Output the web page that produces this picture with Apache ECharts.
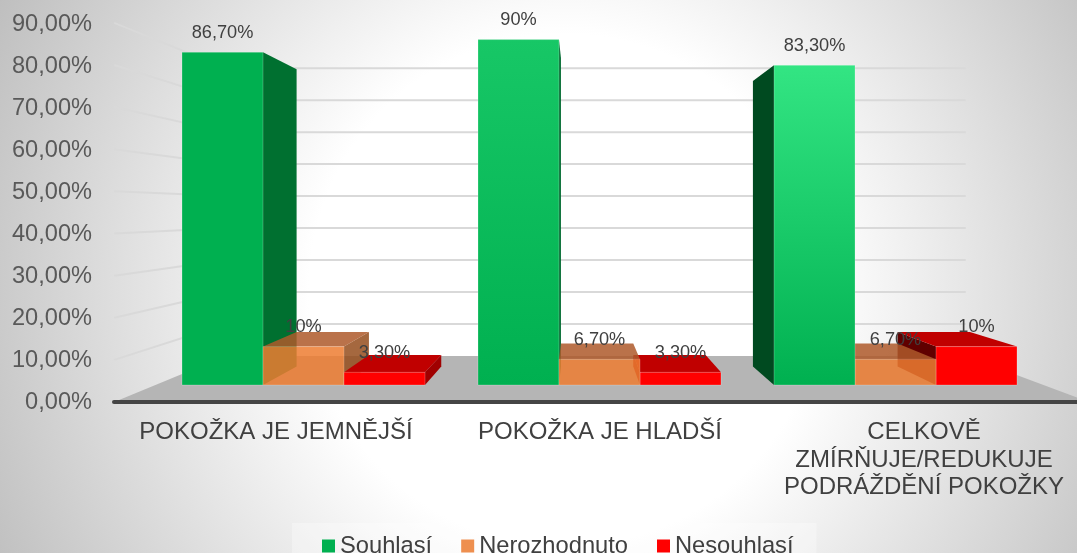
<!DOCTYPE html>
<html>
<head>
<meta charset="utf-8">
<style>html,body{margin:0;padding:0;overflow:hidden}#c{width:1077px;height:553px}</style>
<script src="https://cdn.jsdelivr.net/npm/echarts@6/dist/echarts.min.js"></script>
</head>
<body>
<div id="c"></div>
<script>
const categories = ['POKOŽKA JE JEMNĚJŠÍ', 'POKOŽKA JE HLADŠÍ', 'CELKOVĚ\nZMÍRŇUJE/REDUKUJE\nPODRÁŽDĚNÍ POKOŽKY'];
const seriesNames = ['Souhlasí', 'Nerozhodnuto', 'Nesouhlasí'];
const souhlasi = [86.7, 90, 83.3];
const nerozhodnuto = [10, 6.7, 6.7];
const nesouhlasi = [3.3, 3.3, 10];
const ticks = [0, 10, 20, 30, 40, 50, 60, 70, 80, 90];

// perspective of the drawing
const VX = 577, VY = 211, S_DEPTH = 0.893, S_BACK = 0.8333, S_OUT = 1.098;
const project = (p, s) => [VX + (p[0] - VX) * s, VY + (p[1] - VY) * s];

// paint order inside each category (by series index)
const paintRank = [[0, 1, 2], [0, 2, 1], [2, 1, 0]];

const grad = (top, bottom) => ({ type: 'linear', x: 0, y: 0, x2: 0, y2: 1,
  colorStops: [{ offset: 0, color: top }, { offset: 1, color: bottom }] });

const styles = [
  { legend: '#00B050',
    front: ['#00B050', grad('#17C766', '#00B050'), grad('#33E583', '#00B050')],
    top: ['#007030', '#006A30', '#004A20'],
    side: ['#007030', '#006A30', '#004A20'], alpha: 1 },
  { legend: '#EE8F4F',
    front: ['#ED7D31', '#ED7D31', '#ED7D31'],
    top: ['#AE592A', '#AE592A', '#AE592A'],
    side: ['#954E1D', '#954E1D', '#954E1D'], alpha: 0.85 },
  { legend: '#FF0000',
    front: ['#FF0000', '#FF0000', '#FF0000'],
    top: ['#C00000', '#C00000', '#C00000'],
    side: ['#A00000', '#A00000', '#600000'], alpha: 1 }
];

const fmt = v => (Number.isInteger(v) ? v + '%' : v.toFixed(2).replace('.', ',') + '%');
const poly = (pts, fill, alpha, z2, stroke) => ({ type: 'polygon', z2, shape: { points: pts },
  style: { fill, opacity: alpha, stroke: stroke || null, lineWidth: 1 } });

function barRenderer(si) {
  const st = styles[si];
  return function (params, api) {
    const i = api.value(0), v = api.value(1);
    const band = api.size([1, 0])[0];
    const w = band * 81 / 296;
    const c = api.coord([i, v]), b = api.coord([i, 0]);
    const x0 = c[0] + (si - 1) * w - w / 2, x1 = x0 + w, yt = c[1], yb = b[1];
    const z = 10 + paintRank[i][si] * 10;
    const P = (x, y) => project([x, y], S_DEPTH);
    const kids = [];
    if (x0 > VX) kids.push(poly([[x0, yt], P(x0, yt), P(x0, yb), [x0, yb]], st.side[i], st.alpha, z));
    if (x1 < VX) kids.push(poly([[x1, yt], P(x1, yt), P(x1, yb), [x1, yb]], st.side[i], st.alpha, z));
    if (yt > VY) kids.push(poly([[x0, yt], [x1, yt], P(x1, yt), P(x0, yt)], st.top[i], st.alpha, z + 1));
    kids.push(poly([[x0, yt], [x1, yt], [x1, yb], [x0, yb]], st.front[i], st.alpha, z + 2, 'rgba(255,255,255,0.22)'));
    kids.push({ type: 'text', z2: 100, style: {
      x: (x0 + x1) / 2, y: yt - 19.5, text: fmt(v), align: 'center', verticalAlign: 'middle',
      fill: '#404040', font: '18.2px "Liberation Sans", Arial, sans-serif' } });
    return { type: 'group', children: kids };
  };
}

function wallRenderer(params, api) {
  const v = api.value(0);
  const band = api.size([1, 0])[0];
  const yv = api.coord([0, v])[1];
  const xl = api.coord([0, 0])[0] - band / 2;
  const xr = xl + band * categories.length;
  const lineStyle = { stroke: '#D9D9D9', lineWidth: 2, fill: null };
  const kids = [];
  if (v > 0) {
    const a = project([xl, yv], S_OUT), b = project([xl, yv], S_BACK), d = project([xr, yv], S_BACK);
    kids.push({ type: 'line', z2: 2, shape: { x1: a[0], y1: a[1], x2: b[0], y2: b[1] }, style: lineStyle });
    kids.push({ type: 'line', z2: 2, shape: { x1: b[0], y1: b[1], x2: d[0], y2: d[1] }, style: lineStyle });
  } else {
    kids.push(poly([project([xl, yv], S_OUT), project([xr, yv], S_OUT), project([xr, yv], S_BACK), project([xl, yv], S_BACK)], '#B5B5B5', 1, 1));
  }
  return { type: 'group', children: kids };
}

const values = [souhlasi, nerozhodnuto, nesouhlasi];
const barSeries = seriesNames.map((name, si) => ({
  name, type: 'custom', xAxisIndex: 1, yAxisIndex: 1, z: 3,
  itemStyle: { color: styles[si].legend },
  renderItem: barRenderer(si),
  encode: { x: 0, y: 1 },
  data: values[si].map((v, i) => [i, v])
}));

const chart = echarts.init(document.getElementById('c'), null, { renderer: 'canvas' });
chart.setOption({
  animation: false,
  backgroundColor: { type: 'radial', global: true, x: 565, y: 290, r: 640,
    colorStops: [{ offset: 0, color: '#FFFFFF' }, { offset: 0.4, color: '#FFFFFF' }, { offset: 1, color: '#BEBEBE' }] },
  textStyle: { fontFamily: '"Liberation Sans", Arial, sans-serif' },
  legend: {
    data: seriesNames.map(name => ({ name, icon: 'rect' })),
    left: 292, top: 523, padding: [11, 23, 4, 30], itemGap: 29, itemWidth: 13, itemHeight: 13,
    backgroundColor: 'rgba(255,255,255,0.3)',
    textStyle: { fontSize: 23.7, color: '#404040' }
  },
  grid: [
    { left: 114, top: 24, width: 972, height: 378, outerBoundsMode: 'none', containLabel: false },
    { left: 155.5, top: 39.6, width: 888, height: 345.4, outerBoundsMode: 'none', containLabel: false }
  ],
  xAxis: [
    { type: 'category', gridIndex: 0, data: categories, z: 2,
      axisTick: { show: false },
      axisLine: { lineStyle: { color: '#454545', width: 4 } },
      axisLabel: { interval: 0, margin: 17, fontSize: 24, lineHeight: 27.5, color: '#404040', verticalAlign: 'top' } },
    { type: 'category', gridIndex: 1, data: categories, show: false }
  ],
  yAxis: [
    { type: 'value', gridIndex: 0, min: 0, max: 90, interval: 10,
      axisLine: { show: false }, axisTick: { show: false }, splitLine: { show: false },
      axisLabel: { margin: 22, fontSize: 23.6, color: '#595959', verticalAlign: 'middle', padding: [6, 0, 0, 0],
        formatter: v => v.toFixed(2).replace('.', ',') + '%' } },
    { type: 'value', gridIndex: 1, min: 0, max: 90, interval: 10, show: false, splitLine: { show: false } }
  ],
  series: [
    { type: 'custom', name: 'walls', xAxisIndex: 1, yAxisIndex: 1, z: 1, silent: true,
      renderItem: wallRenderer, encode: { y: 0 }, data: ticks.map(t => [t]) },
    ...barSeries
  ]
});
</script>
</body>
</html>
